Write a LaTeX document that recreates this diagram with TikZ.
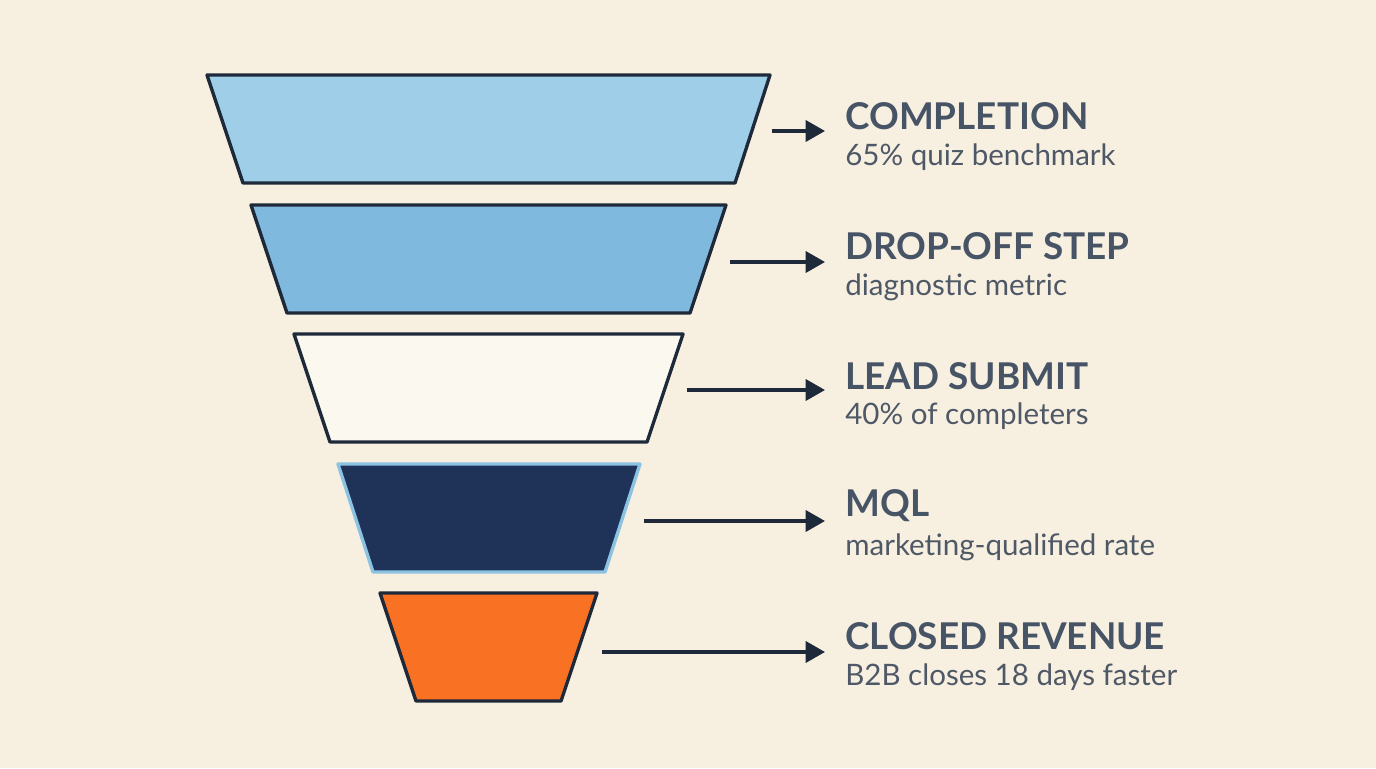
\documentclass[tikz,border=0pt]{standalone}
\usepackage{fontspec}
\setmainfont{Lato}
\usetikzlibrary{arrows.meta}
\definecolor{bg}{HTML}{F7EFE0}
\definecolor{ink}{HTML}{1E2A3A}
\definecolor{head}{HTML}{465466}
\definecolor{sub}{HTML}{4E5866}
\definecolor{sky}{HTML}{9FCFE8}
\definecolor{mid}{HTML}{80B9DE}
\definecolor{pale}{HTML}{FBF8F0}
\definecolor{navy}{HTML}{1F3358}
\definecolor{rim}{HTML}{8CC3E3}
\definecolor{orng}{HTML}{F97122}

\begin{document}
\begin{tikzpicture}[x=0.02cm,y=-0.02cm]
    \tikzstyle{stage}=[draw=ink,line width=1.9pt,line join=round]
    \tikzstyle{link}=[draw=ink,line width=1.9pt,-{Triangle[length=11pt,width=12pt]}]
    \tikzstyle{title}=[anchor=west,text=head,font=\bfseries\fontsize{21}{24}\selectfont,inner sep=0pt]
    \tikzstyle{note}=[anchor=west,text=sub,font=\fontsize{16.8}{20}\selectfont,inner sep=0pt]

    % Background and bounding box
    \fill[bg] (0,0) rectangle (1376,768);

    % Funnel stages: top y / top left / top right / bottom left / bottom right / fill / border / arrow start / arrow y
    \foreach \n/\t/\a/\b/\c/\d/\col/\rimc/\xs/\ya in {
        1/75/207/770/243/735/sky/ink/772/131,
        2/205/251/726/287/690/mid/ink/730/262,
        3/334/294/683/330/647/pale/ink/687/390,
        4/464/338/640/373/605/navy/rim/644/521,
        5/593/380/597/416/561/orng/ink/602/652}
    {
        \path[stage,fill=\col,draw=\rimc] (\a,\t) -- (\b,\t) -- (\d,\t+108) -- (\c,\t+108) -- cycle;
        \coordinate (s\n) at (\xs,\ya);
        \coordinate (e\n) at (825,\ya);
        \draw[link] (s\n) -- (e\n);
    }

    % Labels
    \node[title] (t1) at (845,116) {COMPLETION};
    \node[note]  (n1) at (845,157) {65\% quiz benchmark};
    \node[title] (t2) at (845,246) {DROP-OFF STEP};
    \node[note]  (n2) at (845,287) {diagnostic metric};
    \node[title] (t3) at (845,376) {LEAD SUBMIT};
    \node[note]  (n3) at (845,416) {40\% of completers};
    \node[title] (t4) at (845,506) {MQL};
    \node[note]  (n4) at (845,547) {marketing-qualified rate};
    \node[title] (t5) at (845,636) {CLOSED REVENUE};
    \node[note]  (n5) at (845,677) {B2B closes 18 days faster};
\end{tikzpicture}
\end{document}
